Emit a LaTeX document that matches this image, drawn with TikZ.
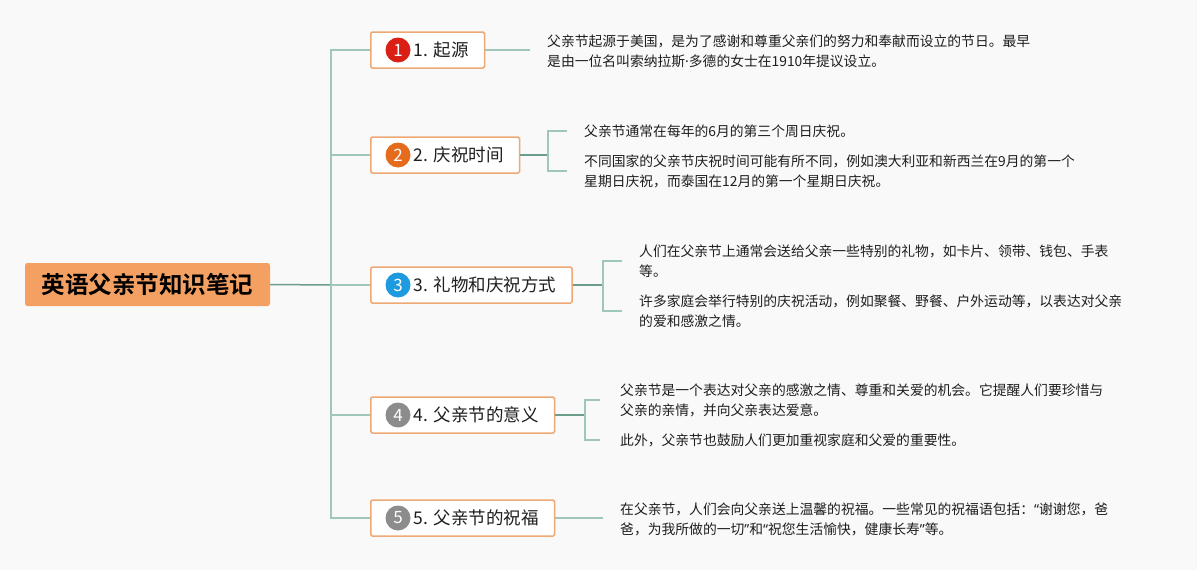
\documentclass[tikz,border=0pt]{standalone}
\usepackage{fontspec}
\setmainfont{Noto Sans CJK SC}[BoldFont={Noto Sans CJK SC Bold}]
\newfontfamily\latinfont{Noto Sans}
\usetikzlibrary{calc}
\definecolor{bgc}{RGB}{249,249,249}
\definecolor{rootfill}{RGB}{243,160,98}
\definecolor{boxline}{RGB}{238,168,118}
\definecolor{lineA}{RGB}{108,158,138}
\definecolor{lineB}{RGB}{160,200,186}
\definecolor{cred}{RGB}{218,32,22}
\definecolor{corange}{RGB}{228,108,28}
\definecolor{cblue}{RGB}{30,155,222}
\definecolor{cgray}{RGB}{140,140,140}
\definecolor{txt}{RGB}{30,30,30}
\tikzset{
  rootbox/.style={fill=rootfill, rounded corners=2.5pt, minimum width=245pt, minimum height=43pt, inner sep=0pt,
    font=\fontsize{23.5}{26}\selectfont\bfseries, text=black},
  branchbox/.style={draw=boxline, line width=1.5pt, fill=white, rounded corners=1.5pt, anchor=west,
    minimum height=36pt, inner ysep=0pt, inner xsep=0pt, text=txt,
    font=\fontsize{17.5}{20}\selectfont},
  numdot/.style={circle, minimum size=25pt, inner sep=0pt, text=white, font=\fontsize{17}{18}\selectfont},
  detail/.style={anchor=west, align=left, inner xsep=17pt, inner ysep=0pt, text=txt,
    font=\fontsize{13.8}{20}\selectfont},
  darkline/.style={draw=lineA, line width=1.5pt},
  lightline/.style={draw=lineB, line width=1.5pt},
}
\newcommand{\blabel}[1]{\kern43pt #1\kern16pt}
\newcommand{\myoq}{{\latinfont “}}
\newcommand{\mycq}{{\latinfont ”}}
\newcommand{\mymdot}{{\latinfont ·}}
\begin{document}
\begin{tikzpicture}[x=1pt,y=-1pt]
\fill[bgc] (0,0) rectangle (1197,570);
\useasboundingbox (0,0) rectangle (1197,570);

% root
\node[rootbox] (root) at (147.5,284.5) {英语父亲节知识笔记};

% trunk
\coordinate (j) at (331,285);
\coordinate (tt) at (331,50);
\coordinate (tb) at (331,518);

% branch boxes
\node[branchbox] (b1) at (370,50) {\blabel{1. 起源}};
\node[branchbox] (b2) at (370,155) {\blabel{2. 庆祝时间}};
\node[branchbox] (b3) at (370,285) {\blabel{3. 礼物和庆祝方式}};
\node[branchbox] (b4) at (370,415) {\blabel{4. 父亲节的意义}};
\node[branchbox] (b5) at (370,518) {\blabel{5. 父亲节的祝福}};

\node[numdot, fill=cred] (n1) at ($(b1.west)+(28,0)$) {1};
\node[numdot, fill=corange] (n2) at ($(b2.west)+(28,0)$) {2};
\node[numdot, fill=cblue] (n3) at ($(b3.west)+(28,0)$) {3};
\node[numdot, fill=cgray] (n4) at ($(b4.west)+(28,0)$) {4};
\node[numdot, fill=cgray] (n5) at ($(b5.west)+(28,0)$) {5};

% details
\node[detail] (t1) at (530,51) {父亲节起源于美国，是为了感谢和尊重父亲们的努力和奉献而设立的节日。最早\\是由一位名叫索纳拉斯\mymdot 多德的女士在1910年提议设立。};
\node[detail] (t21) at (567,131) {父亲节通常在每年的6月的第三个周日庆祝。};
\node[detail] (t22) at (567,171) {不同国家的父亲节庆祝时间可能有所不同，例如澳大利亚和新西兰在9月的第一个\\星期日庆祝，而泰国在12月的第一个星期日庆祝。};
\node[detail] (t31) at (622,261) {人们在父亲节上通常会送给父亲一些特别的礼物，如卡片、领带、钱包、手表\\等。};
\node[detail] (t32) at (622,311) {许多家庭会举行特别的庆祝活动，例如聚餐、野餐、户外运动等，以表达对父亲\\的爱和感激之情。};
\node[detail, inner xsep=20pt] (t41) at (600,400) {父亲节是一个表达对父亲的感激之情、尊重和关爱的机会。它提醒人们要珍惜与\\父亲的亲情，并向父亲表达爱意。};
\node[detail, inner xsep=20pt] (t42) at (600,440) {此外，父亲节也鼓励人们更加重视家庭和父爱的重要性。};
\node[detail] (t5) at (603,519) {在父亲节，人们会向父亲送上温馨的祝福。一些常见的祝福语包括：\myoq 谢谢您，爸\\爸，为我所做的一切\mycq 和\myoq 祝您生活愉快，健康长寿\mycq 等。};

% connectors
\draw[darkline] (root.east) -- (j);
\draw[lightline] (b1.west) -| (tt) -- (tb) |- (b5.west);
\draw[lightline] (b2.west) -- (b2.west -| j);
\draw[lightline] (b3.west) -- (b3.west -| j);
\draw[lightline] (b4.west) -- (b4.west -| j);

\draw[lightline] (b1.east) -- (b1.east -| t1.west);
\draw[lightline] (b5.east) -- (b5.east -| t5.west);

\coordinate (k2) at (548,155);
\coordinate (k3) at (603,285);
\coordinate (k4) at (585,415);
\draw[darkline] (b2.east) -- (k2);
\draw[darkline] (b3.east) -- (k3);
\draw[darkline] (b4.east) -- (k4);
\draw[lightline] (t21.west) -| (k2) |- (t22.west);
\draw[lightline] (t31.west) -| (k3) |- (t32.west);
\draw[lightline] (t41.west) -| (k4) |- (t42.west);
\end{tikzpicture}
\end{document}
